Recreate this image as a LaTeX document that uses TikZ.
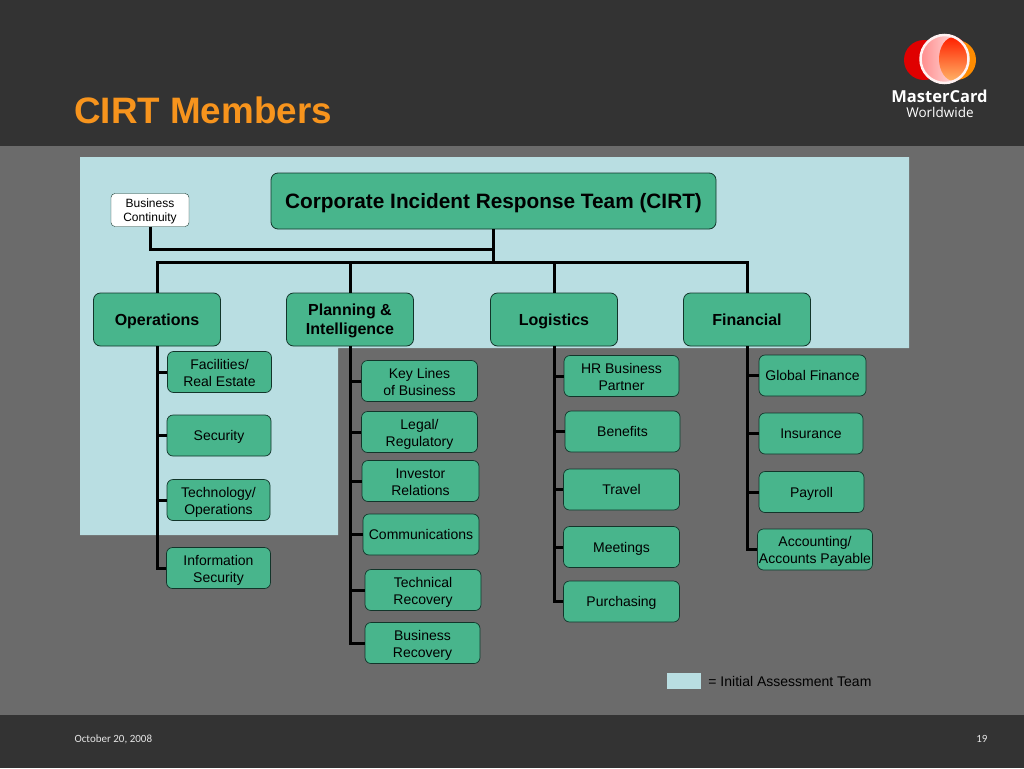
\documentclass[tikz,border=0pt]{standalone}
\usepackage{fontspec}
\setmainfont{Liberation Sans}
\newfontfamily\logofont{Open Sans}
\newfontfamily\footfont{Carlito}
\usetikzlibrary{positioning,calc}
\definecolor{slidebar}{HTML}{333333}
\definecolor{slidegrey}{HTML}{6B6B6B}
\definecolor{teamblue}{HTML}{B9DEE2}
\definecolor{boxgreen}{HTML}{48B58C}
\definecolor{boxline}{HTML}{12352A}
\definecolor{titleorange}{HTML}{F7941D}
\newcommand{\fsize}[2]{\fontsize{#1}{#2}\selectfont}

\begin{document}
\begin{tikzpicture}[x=1pt,y=-1pt,
    lift/.style 2 args={execute at begin node={\rule{0pt}{#1pt}},execute at end node={\rule[-#2pt]{0pt}{#2pt}}},
    head/.style={draw=boxline,fill=boxgreen,rounded corners=7pt,line width=.8pt,font=\fsize{16}{19}\bfseries,
        align=center,inner sep=0pt,minimum width=127pt,minimum height=53pt,lift={15}{3}},
    item/.style={draw=boxline,fill=boxgreen,rounded corners=6pt,line width=.7pt,font=\fsize{14}{17},
        align=center,inner sep=0pt,minimum height=41pt,lift={13}{3}},
    twoline/.style={lift={31}{3}},
    edge/.style={line width=3pt,black}]

    %--------------------------------------------
    % Slide
    \useasboundingbox (0,0) rectangle (1024,768);
    \fill[slidegrey] (0,0) rectangle (1024,768);
    \fill[slidebar] (0,0) rectangle (1024,146);
    \fill[slidebar] (0,715) rectangle (1024,768);
    \fill[teamblue] (80,157) -- (909,157) -- (909,348) -- (338,348) -- (338,535) -- (80,535) -- cycle;

    \node[anchor=west,inner sep=0pt,text=titleorange,font=\fsize{36.8}{40}\bfseries](title) at (74,110){CIRT Members};
    \node[anchor=west,text=white!90!black,font=\footfont\fsize{11}{13}](date) at (71,739){October 20, 2008};
    \node[anchor=east,text=white!90!black,font=\footfont\fsize{11}{13}](page) at (991,739){19};

    %--------------------------------------------
    % Logo
    \fill[red!88!black] (924,60) circle (20);
    \fill[orange!90!yellow] (956,60) circle (20);
    \shade[left color=red!45!white,right color=white!85!pink] (944.5,59) circle (24);
    \shade[top color=red!75!orange,bottom color=orange!60!white] (954,59) ellipse (15 and 22);
    \draw[white!80!pink,line width=2.5pt] (944.5,59) circle (24);
    \node[text=white,font=\logofont\bfseries\fsize{16.5}{20}](brand) at (939.5,96){MasterCard};
    \node[text=white,font=\logofont\fsize{13.5}{16}](brandsub) at (940,112){Worldwide};

    %--------------------------------------------
    % Top of the tree
    \node[head,minimum width=445pt,minimum height=56pt,font=\fsize{20.8}{24}\bfseries,lift={18.4}{3.6}](cirt) at (493.5,201){Corporate Incident Response Team (CIRT)};
    \node[draw=boxline,fill=white,rounded corners=4pt,font=\fsize{12}{14},align=center,inner sep=0pt,
        minimum width=78pt,minimum height=33pt,lift={26}{2}](bc) at (150,210){Business\\Continuity};

    \node[head](ops) at (157,319.5){Operations};
    \node[head,lift={33.5}{3}](plan) at (350,319.5){Planning \&\\Intelligence};
    \node[head](logi) at (554,319.5){Logistics};
    \node[head](fin) at (747,319.5){Financial};

    %--------------------------------------------
    % Operations
    \node[item,twoline,minimum width=104pt](fac) at (219.5,372){Facilities/\\Real Estate};
    \node[item,minimum width=104pt](sec) at (219,435.5){Security};
    \node[item,twoline,minimum width=103pt](tech) at (218.5,500){Technology/\\Operations};
    \node[item,twoline,minimum width=104pt](info) at (218.5,568){Information\\Security};

    % Planning
    \node[item,twoline,minimum width=116pt](key) at (419.5,381){Key Lines\\of Business};
    \node[item,twoline,minimum width=116pt](legal) at (419.5,432){Legal/\\Regulatory};
    \node[item,twoline,minimum width=117pt](inv) at (420.5,481){Investor\\Relations};
    \node[item,minimum width=116pt](comm) at (421,534.5){Communications};
    \node[item,twoline,minimum width=116pt](techrec) at (423,590){Technical\\Recovery};
    \node[item,twoline,minimum width=115pt](busrec) at (422.5,643){Business\\Recovery};

    % Logistics
    \node[item,twoline,minimum width=115pt](hr) at (621.5,376){HR Business\\Partner};
    \node[item,minimum width=115pt](ben) at (622.5,431.5){Benefits};
    \node[item,minimum width=116pt](travel) at (621.5,489.5){Travel};
    \node[item,minimum width=116pt](meet) at (621.5,547){Meetings};
    \node[item,minimum width=116pt](purch) at (621.5,601.5){Purchasing};

    % Financial
    \node[item,minimum width=107pt](gf) at (812.5,375.5){Global Finance};
    \node[item,minimum width=104pt](ins) at (811,433.5){Insurance};
    \node[item,minimum width=105pt](pay) at (811.5,492){Payroll};
    \node[item,twoline,minimum width=115pt](acc) at (815,549.5){Accounting/\\Accounts Payable};

    %--------------------------------------------
    % Legend
    \node[fill=teamblue,minimum width=34pt,minimum height=16pt,inner sep=0pt](key0) at (684,681){};
    \node[right=7pt of key0,inner sep=0pt,font=\fsize{14}{17}](legend){= Initial Assessment Team};

    %--------------------------------------------
    % Edges
    \coordinate (top) at (493.5,262);
    \coordinate (mid) at (493.5,249);
    \draw[edge] (cirt.south) -- (top);
    \draw[edge] (bc.south) |- (mid);
    \draw[edge] (ops.north) |- (top);
    \draw[edge] (fin.north) |- (top);
    \draw[edge] (plan.north) -- (plan.north |- top);
    \draw[edge] (logi.north) -- (logi.north |- top);

    \foreach \h/\list in {ops/{fac,sec,tech,info},plan/{key,legal,inv,comm,techrec,busrec},
        logi/{hr,ben,travel,meet,purch},fin/{gf,ins,pay,acc}}{
        \foreach \c in \list
            \draw[edge] (\h.south) |- (\c.west);
    }
\end{tikzpicture}
\end{document}
